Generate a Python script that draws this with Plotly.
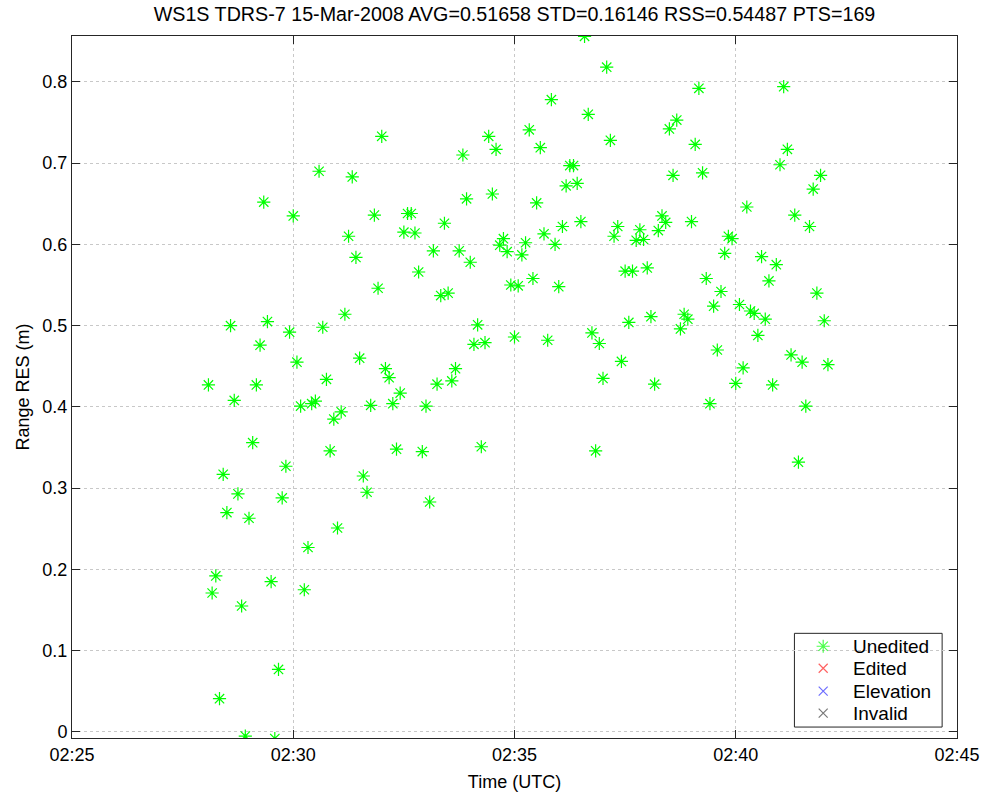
import plotly.graph_objects as go

# ---- data ----
obs_date = "2008-03-15"
times = [
    "02:28:05", "02:28:10", "02:28:15", "02:28:20", "02:28:25", "02:28:30", "02:28:35", "02:28:40", "02:28:45", "02:28:50", "02:28:55",
    "02:29:00", "02:29:05", "02:29:10", "02:29:15", "02:29:20", "02:29:25", "02:29:30", "02:29:35", "02:29:40", "02:29:45", "02:29:50", "02:29:55",
    "02:30:00", "02:30:05", "02:30:10", "02:30:15", "02:30:20", "02:30:25", "02:30:30", "02:30:35", "02:30:40", "02:30:45", "02:30:50", "02:30:55",
    "02:31:00", "02:31:05", "02:31:10", "02:31:15", "02:31:20", "02:31:25", "02:31:30", "02:31:35", "02:31:40", "02:31:45", "02:31:50", "02:31:55",
    "02:32:00", "02:32:05", "02:32:10", "02:32:15", "02:32:20", "02:32:25", "02:32:30", "02:32:35", "02:32:40", "02:32:45", "02:32:50", "02:32:55",
    "02:33:00", "02:33:05", "02:33:10", "02:33:15", "02:33:20", "02:33:25", "02:33:30", "02:33:35", "02:33:40", "02:33:45", "02:33:50", "02:33:55",
    "02:34:00", "02:34:05", "02:34:10", "02:34:15", "02:34:20", "02:34:25", "02:34:30", "02:34:35", "02:34:40", "02:34:45", "02:34:50", "02:34:55",
    "02:35:00", "02:35:05", "02:35:10", "02:35:15", "02:35:20", "02:35:25", "02:35:30", "02:35:35", "02:35:40", "02:35:45", "02:35:50", "02:35:55",
    "02:36:00", "02:36:05", "02:36:10", "02:36:15", "02:36:20", "02:36:25", "02:36:30", "02:36:35", "02:36:40", "02:36:45", "02:36:50", "02:36:55",
    "02:37:00", "02:37:05", "02:37:10", "02:37:15", "02:37:20", "02:37:25", "02:37:30", "02:37:35", "02:37:40", "02:37:45", "02:37:50", "02:37:55",
    "02:38:00", "02:38:05", "02:38:10", "02:38:15", "02:38:20", "02:38:25", "02:38:30", "02:38:35", "02:38:40", "02:38:45", "02:38:50", "02:38:55",
    "02:39:00", "02:39:05", "02:39:10", "02:39:15", "02:39:20", "02:39:25", "02:39:30", "02:39:35", "02:39:40", "02:39:45", "02:39:50", "02:39:55",
    "02:40:00", "02:40:05", "02:40:10", "02:40:15", "02:40:20", "02:40:25", "02:40:30", "02:40:35", "02:40:40", "02:40:45", "02:40:50", "02:40:55",
    "02:41:00", "02:41:05", "02:41:10", "02:41:15", "02:41:20", "02:41:25", "02:41:30", "02:41:35", "02:41:40", "02:41:45", "02:41:50", "02:41:55",
    "02:42:00", "02:42:05",
]
range_res = [
    0.427, 0.171, 0.192, 0.041, 0.317, 0.270, 0.500, 0.408, 0.293, 0.155, -0.005,
    0.263, 0.356, 0.427, 0.476, 0.652, 0.505, 0.185, -0.008, 0.077, 0.288, 0.327, 0.492,
    0.635, 0.455, 0.401, 0.175, 0.227, 0.404, 0.407, 0.690, 0.498, 0.434, 0.346, 0.385,
    0.251, 0.394, 0.514, 0.610, 0.683, 0.584, 0.460, 0.315, 0.295, 0.402, 0.636, 0.546,
    0.733, 0.447, 0.436, 0.404, 0.348, 0.417, 0.615, 0.638, 0.638, 0.614, 0.566, 0.345,
    0.401, 0.283, 0.592, 0.428, 0.537, 0.626, 0.540, 0.432, 0.447, 0.592, 0.710, 0.656,
    0.578, 0.477, 0.501, 0.351, 0.479, 0.733, 0.662, 0.717, 0.599, 0.607, 0.591, 0.550,
    0.486, 0.549, 0.587, 0.602, 0.741, 0.558, 0.651, 0.719, 0.613, 0.482, 0.778, 0.600,
    0.548, 0.622, 0.672, 0.697, 0.697, 0.675, 0.628, 0.856, 0.760, 0.491, 0.346, 0.478,
    0.435, 0.818, 0.728, 0.610, 0.622, 0.456, 0.567, 0.504, 0.567, 0.605, 0.618, 0.606,
    0.571, 0.511, 0.428, 0.617, 0.635, 0.627, 0.742, 0.685, 0.753, 0.496, 0.514, 0.508,
    0.628, 0.723, 0.792, 0.688, 0.558, 0.404, 0.524, 0.470, 0.542, 0.589, 0.610, 0.607,
    0.429, 0.526, 0.448, 0.646, 0.518, 0.515, 0.488, 0.585, 0.508, 0.555, 0.427, 0.575,
    0.698, 0.794, 0.717, 0.464, 0.636, 0.332, 0.455, 0.401, 0.622, 0.668, 0.540, 0.685,
    0.506, 0.452,
]
x_ticks = ["02:25", "02:30", "02:35", "02:40", "02:45"]
y_ticks = [0, 0.1, 0.2, 0.3, 0.4, 0.5, 0.6, 0.7, 0.8]
legend_names = ["Unedited", "Edited", "Elevation", "Invalid"]
legend_colors = ["#00ff00", "#ff2020", "#3030ff", "#404040"]
legend_symbols = ["asterisk-open", "x-thin-open", "x-thin-open", "x-thin-open"]

title_text = "WS1S TDRS-7 15-Mar-2008 AVG=0.51658 STD=0.16146 RSS=0.54487 PTS=169"

FONT = "Liberation Sans, Arial, Helvetica, sans-serif"

x_dt = [f"{obs_date} {t}" for t in times]
tick_vals = [f"{obs_date} {t}:00" for t in x_ticks]

fig = go.Figure()
# measured residuals (only the "Unedited" class has points)
fig.add_trace(go.Scatter(
    x=x_dt, y=range_res, mode="markers", name=legend_names[0], showlegend=False,
    marker=dict(symbol=legend_symbols[0], size=11, color=legend_colors[0],
                line=dict(color=legend_colors[0], width=1.2)),
))
# empty classes
for nm, col, sym in zip(legend_names[1:], legend_colors[1:], legend_symbols[1:]):
    fig.add_trace(go.Scatter(x=[None], y=[None], mode="markers", name=nm, showlegend=False,
                             marker=dict(symbol=sym, size=9, color=col, line=dict(color=col, width=1.2))))

# ---- MATLAB-style legend box (paper coordinates) ----
leg_x0, leg_x1, leg_y0, leg_y1 = 0.8163, 0.9832, 0.0156, 0.1491
item_y = [0.1307, 0.0994, 0.0668, 0.0355]
sym_x, text_x = 0.8488, 0.8802
fig.add_shape(type="rect", xref="paper", yref="paper", x0=leg_x0, x1=leg_x1, y0=leg_y0, y1=leg_y1,
              fillcolor="white", line=dict(color="#262626", width=1), layer="between")
fig.add_trace(go.Scatter(
    x=[sym_x] * 4, y=item_y, xaxis="x2", yaxis="y2", mode="markers", showlegend=False,
    hoverinfo="skip",
    marker=dict(symbol=legend_symbols, size=[11, 9, 9, 9], color=legend_colors,
                line=dict(color=legend_colors, width=1.2)),
))
for nm, yy in zip(legend_names, item_y):
    fig.add_annotation(x=text_x, y=yy, xref="paper", yref="paper", text=nm, showarrow=False,
                       xanchor="left", yanchor="middle",
                       font=dict(family=FONT, size=19, color="#000000"))

axis_common = dict(
    showline=True, linecolor="#262626", linewidth=1, mirror="ticks",
    ticks="inside", ticklen=8, tickcolor="#262626", tickwidth=1,
    showgrid=True, gridcolor="#c8c8c8", griddash="dot", gridwidth=1,
    zeroline=False, tickfont=dict(family=FONT, size=18, color="#000000"),
)

fig.update_xaxes(
    type="date", range=[tick_vals[0], tick_vals[-1]],
    tickvals=tick_vals, ticktext=x_ticks,
    title=dict(text="Time (UTC)", font=dict(family=FONT, size=18, color="#000000"), standoff=11),
    **axis_common,
)
fig.update_yaxes(
    range=[-0.0074, 0.8564], tickvals=y_ticks,
    ticktext=[("0" if v == 0 else f"{v:.1f}") for v in y_ticks],
    title=dict(text="Range RES (m)", font=dict(family=FONT, size=18, color="#000000"), standoff=8),
    **axis_common,
)

fig.update_layout(
    width=992, height=800,
    margin=dict(l=72, r=27, t=36, b=60),
    paper_bgcolor="white", plot_bgcolor="white",
    xaxis2=dict(overlaying="x", range=[0, 1], visible=False, fixedrange=True),
    yaxis2=dict(overlaying="y", range=[0, 1], visible=False, fixedrange=True),
    title=dict(text=title_text, x=0.5, xref="paper", xanchor="center", y=1 - 14 / 800, yanchor="middle",
               font=dict(family=FONT, size=19.7, color="#000000")),
    showlegend=False,
)

fig.write_html("out.html")
